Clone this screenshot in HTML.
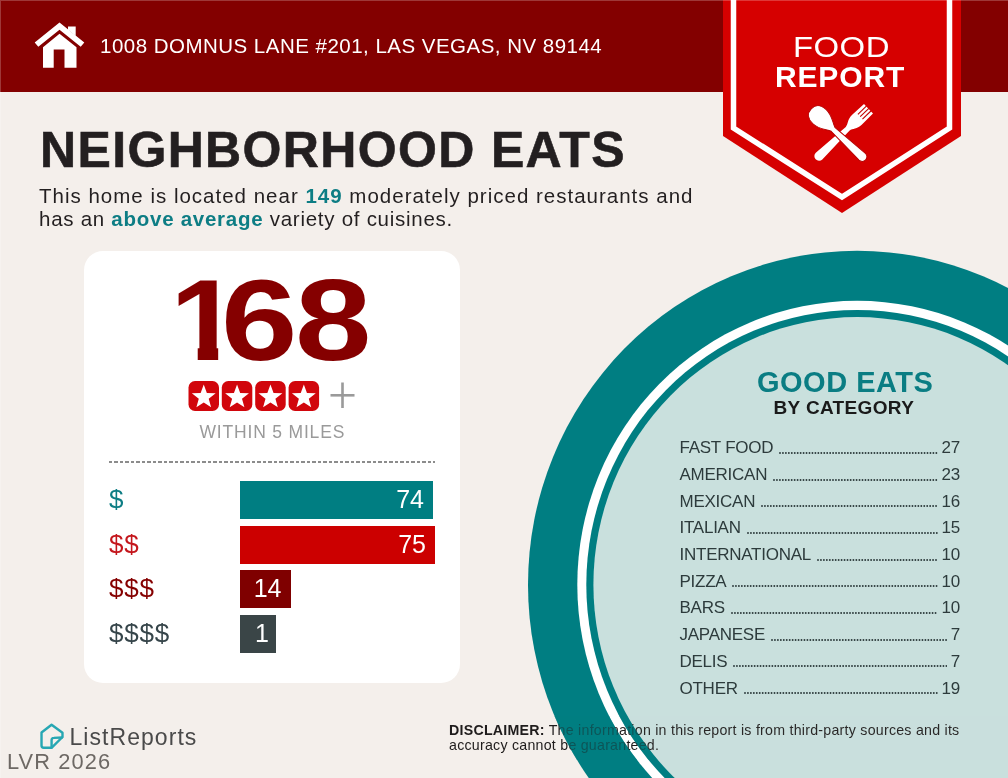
<!DOCTYPE html>
<html lang="en">
<head>
<meta charset="utf-8">
<title>Neighborhood Eats - Food Report</title>
<style>
  html, body { margin: 0; padding: 0; }
  body {
    width: 1008px; height: 778px; overflow: hidden; position: relative;
    background: #f4efeb;
    font-family: "Liberation Sans", sans-serif;
    color: #231f20;
  }
  .abs { position: absolute; white-space: nowrap; line-height: 1; }
  #header { position: absolute; left: 0; top: 0; width: 1008px; height: 91.500px; background: #830000; }
  #shapes { position: absolute; left: 0; top: 0; width: 1008px; height: 778px; }
  #address { left: 100px; top: 35.700px; font-size: 20.5px; letter-spacing: 0.48px; color: #fff; }
  #title { left: 40px; top: 125px; font-size: 50px; letter-spacing: 1.35px; -webkit-text-stroke: 0.6px #231f20; font-weight: bold; color: #231f20; }
  .para { left: 39px; font-size: 20.5px; color: #231f20; }
  .para b { color: #0d7d84; }
  #card { position: absolute; left: 84px; top: 250.700px; width: 376px; height: 432.800px; background: #fff; border-radius: 19px; }
  #big { left: 160px; top: 262.800px; width: 220px; height: 114.500px; font-size: 114.500px; font-weight: bold; color: #850000; }
  #big span { position: absolute; top: 0; display: block; line-height: 1; transform-origin: 0 0; }
  #big .b1 { left: 9.500px; transform: scaleX(1.1); clip-path: polygon(0 0, 100% 0, 100% 83.500px, 43.800px 83.500px, 43.800px 100%, 25.200px 100%, 25.200px 83.500px, 0 83.500px); }
  #big .b68 { left: 60.600px; transform: scaleX(1.2); letter-spacing: -2.1px; }
  #within { left: 199.500px; top: 424.200px; font-size: 17.500px; letter-spacing: 0.82px; color: #9a9a9a; }
  #dash { position: absolute; left: 109px; top: 461px; width: 326px; height: 2px; background: repeating-linear-gradient(90deg, #8c8c8c 0, #8c8c8c 3.500px, transparent 3.500px, transparent 5.500px); }
  .dol { left: 109px; font-size: 26px; letter-spacing: 0.8px; }
  .bar { position: absolute; left: 240px; height: 38px; }
  .bar span { position: absolute; right: 9px; top: 6px; font-size: 25px; color: #fff; line-height: 1; }
  #ge { letter-spacing: 0.5px; font-size: 29px; font-weight: bold; color: #0a7d83; left: 757px; top: 368px; }
  #bc { font-size: 19px; letter-spacing: 0.35px; font-weight: bold; color: #1a1a1a; left: 773.500px; top: 397.500px; }
  .row { position: absolute; left: 679.500px; width: 280.500px; height: 20px; font-size: 17px; letter-spacing: -0.25px; color: #2d3b3c; line-height: 20px; display: flex; align-items: baseline; white-space: nowrap; }
  .row i { flex: 1; margin: 0 3.500px 0 6px; height: 4px; position: relative; top: 1.700px; display: block; }
  .row i svg { display: block; width: 100%; height: 4px; overflow: hidden; }
  #disc { left: 449px; top: 723.200px; font-size: 14.200px; line-height: 15.300px; letter-spacing: 0.25px; color: #1f1c1c; white-space: nowrap; }
  #lr { left: 69.500px; top: 725.800px; font-size: 23px; letter-spacing: 1.05px; color: #4a4a4a; }
  #edge { position: absolute; left: 0; top: 0; width: 1007px; height: 777px; border-top: 1px solid rgba(255,255,255,0.22); border-left: 1px solid rgba(255,255,255,0.22); pointer-events: none; }
  #lvr { left: 7px; top: 751px; font-size: 21.800px; color: #6d6864; letter-spacing: 1.1px; }
</style>
</head>
<body>
<div id="header"></div>

<svg id="shapes" viewBox="0 0 1008 778">
  <!-- plate -->
  <ellipse cx="857.200" cy="584.700" rx="329.200" ry="333.900" fill="#007e82"/>
  <ellipse cx="857.200" cy="584.700" rx="279.900" ry="283.900" fill="#ffffff"/>
  <ellipse cx="857.200" cy="584.700" rx="270.900" ry="274.800" fill="#007e82"/>
  <ellipse cx="857.200" cy="584.700" rx="263.800" ry="267.600" fill="#c9e0dd"/>
  <!-- ribbon -->
  <polygon points="723,0 961,0 961,136 842,213 723,136" fill="#d60000"/>
  <polyline points="733.5,0 733.5,128 842,197 949.5,128 949.5,0" fill="none" stroke="#ffffff" stroke-width="5.5"/>
  <!-- house -->
  <g fill="#ffffff">
    <polygon points="59.500,22.500 84.300,42.600 80.700,46.800 59.500,29.700 38.300,46.800 34.700,42.600"/>
    <polygon points="68,26.500 75.700,26.500 75.700,36 68,29.800"/>
    <path d="M43,47.300 L59.500,33.800 L76.500,47.300 L76.500,67.700 L64.500,67.700 L64.500,49.500 L53.700,49.500 L53.700,67.700 L43,67.700 Z"/>
  </g>
  <!-- spoon & fork -->
  <g stroke="none">
    <g transform="translate(868.500,108.700) rotate(46.200)">
      <path fill="#ffffff" d="M-6.500,0 L6.500,0 L6.900,16 C6.900,23 3.200,24.500 2.600,29 L4.700,68.500 A4.700,4.700 0 0 1 -4.700,68.500 L-2.600,29 C-3.200,24.500 -6.900,23 -6.900,16 Z"/>
      <rect x="-3.850" y="-0.500" width="1.100" height="12" fill="#c20000"/>
      <rect x="-0.550" y="-0.500" width="1.100" height="12" fill="#c20000"/>
      <rect x="2.750" y="-0.500" width="1.100" height="12" fill="#c20000"/>
    </g>
    <g transform="translate(811.200,108.800) rotate(-46.800)">
      <path fill="#ffffff" stroke="#b80000" stroke-width="1" d="M0,0 C6.500,0 9.700,5 9.700,11.500 C9.700,20 4.500,25 2.700,30 L4.700,70 A4.700,4.700 0 0 1 -4.700,70 L-2.700,30 C-4.500,25 -9.700,20 -9.700,11.500 C-9.700,5 -6.500,0 0,0 Z"/>
    </g>
  </g>
</svg>

<div class="abs" id="address">1008 DOMNUS LANE #201, LAS VEGAS, NV 89144</div>
<div class="abs" id="food" style="left:792.500px;top:33px;font-size:29px;letter-spacing:0.4px;transform:scaleX(1.135);transform-origin:0 0;color:#fff;">FOOD</div>
<div class="abs" id="report" style="left:775px;top:62px;font-size:30px;letter-spacing:0.85px;color:#fff;font-weight:bold;">REPORT</div>

<div class="abs" id="title">NEIGHBORHOOD EATS</div>
<div class="abs para" id="p1" style="top:186.400px;letter-spacing:1.0px;">This home is located near <b>149</b> moderately priced restaurants and</div>
<div class="abs para" id="p2" style="top:209.200px;letter-spacing:0.73px;">has an <b>above average</b> variety of cuisines.</div>

<div id="card"></div>
<div class="abs" id="big"><span class="b1">1</span><span class="b68">68</span></div>
<svg class="abs" id="stars" style="left:187px;top:380px;" width="170" height="32" viewBox="0 0 170 32">
  <defs>
    <g id="st">
      <rect x="0" y="0" width="30.500" height="30" rx="6.500" fill="#d1060c"/>
      <polygon fill="#fff" transform="translate(15.250,15.300) scale(1.090) translate(-15.250,-15.300)" points="15.250,4.500 18.100,12.200 26.200,12.500 19.800,17.500 22,25.400 15.250,20.900 8.500,25.400 10.700,17.500 4.300,12.500 12.400,12.200"/>
    </g>
  </defs>
  <use href="#st" x="1.500" y="1"/>
  <use href="#st" x="34.800" y="1"/>
  <use href="#st" x="68.200" y="1"/>
  <use href="#st" x="101.600" y="1"/>
  <rect x="143.500" y="14" width="24" height="2.600" fill="#9a9a9a"/>
  <rect x="154.200" y="2.500" width="2.600" height="25.500" fill="#9a9a9a"/>
</svg>
<div class="abs" id="within">WITHIN 5 MILES</div>
<div id="dash"></div>

<div class="abs dol" style="top:486px;color:#0d7d84;">$</div>
<div class="abs dol" style="top:530.5px;color:#c4161c;">$$</div>
<div class="abs dol" style="top:575px;color:#850000;">$$$</div>
<div class="abs dol" style="top:619.5px;color:#36454a;">$$$$</div>
<div class="bar" style="top:481px;width:193px;background:#007e82;"><span>74</span></div>
<div class="bar" style="top:525.500px;width:195px;background:#cc0000;"><span>75</span></div>
<div class="bar" style="top:570px;width:50.500px;background:#7f0000;"><span>14</span></div>
<div class="bar" style="top:614.500px;width:36px;background:#3a4547;"><span style="right:7px;">1</span></div>

<div class="abs" id="ge">GOOD EATS</div>
<div class="abs" id="bc">BY CATEGORY</div>

<div class="row" style="top:438.2px;"><span>FAST FOOD</span><i><svg><line x1="1" y1="2" x2="100%" y2="2" stroke="#2d3b3c" stroke-width="1.900" stroke-dasharray="0.010 2.940" stroke-linecap="round"/></svg></i><span>27</span></div>
<div class="row" style="top:464.9px;"><span>AMERICAN</span><i><svg><line x1="1" y1="2" x2="100%" y2="2" stroke="#2d3b3c" stroke-width="1.900" stroke-dasharray="0.010 2.940" stroke-linecap="round"/></svg></i><span>23</span></div>
<div class="row" style="top:491.6px;"><span>MEXICAN</span><i><svg><line x1="1" y1="2" x2="100%" y2="2" stroke="#2d3b3c" stroke-width="1.900" stroke-dasharray="0.010 2.940" stroke-linecap="round"/></svg></i><span>16</span></div>
<div class="row" style="top:518.3px;"><span>ITALIAN</span><i><svg><line x1="1" y1="2" x2="100%" y2="2" stroke="#2d3b3c" stroke-width="1.900" stroke-dasharray="0.010 2.940" stroke-linecap="round"/></svg></i><span>15</span></div>
<div class="row" style="top:545.0px;"><span>INTERNATIONAL</span><i><svg><line x1="1" y1="2" x2="100%" y2="2" stroke="#2d3b3c" stroke-width="1.900" stroke-dasharray="0.010 2.940" stroke-linecap="round"/></svg></i><span>10</span></div>
<div class="row" style="top:571.7px;"><span>PIZZA</span><i><svg><line x1="1" y1="2" x2="100%" y2="2" stroke="#2d3b3c" stroke-width="1.900" stroke-dasharray="0.010 2.940" stroke-linecap="round"/></svg></i><span>10</span></div>
<div class="row" style="top:598.4px;"><span>BARS</span><i><svg><line x1="1" y1="2" x2="100%" y2="2" stroke="#2d3b3c" stroke-width="1.900" stroke-dasharray="0.010 2.940" stroke-linecap="round"/></svg></i><span>10</span></div>
<div class="row" style="top:625.1px;"><span>JAPANESE</span><i><svg><line x1="1" y1="2" x2="100%" y2="2" stroke="#2d3b3c" stroke-width="1.900" stroke-dasharray="0.010 2.940" stroke-linecap="round"/></svg></i><span>7</span></div>
<div class="row" style="top:651.8px;"><span>DELIS</span><i><svg><line x1="1" y1="2" x2="100%" y2="2" stroke="#2d3b3c" stroke-width="1.900" stroke-dasharray="0.010 2.940" stroke-linecap="round"/></svg></i><span>7</span></div>
<div class="row" style="top:678.5px;"><span>OTHER</span><i><svg><line x1="1" y1="2" x2="100%" y2="2" stroke="#2d3b3c" stroke-width="1.900" stroke-dasharray="0.010 2.940" stroke-linecap="round"/></svg></i><span>19</span></div>

<div class="abs" id="disc"><span id="d1"><b>DISCLAIMER:</b> The information in this report is from third-party sources and its</span><br><span id="d2">accuracy cannot be guaranteed.</span></div>

<svg class="abs" id="tint" style="left:440px;top:716px;" width="568" height="44" viewBox="440 716 568 44">
  <ellipse cx="857.200" cy="584.700" rx="304.550" ry="308.900" fill="none" stroke="#007e82" stroke-width="49.600" opacity="0.58"/>
  <ellipse cx="857.200" cy="584.700" rx="267.350" ry="271.200" fill="none" stroke="#007e82" stroke-width="7.100" opacity="0.58"/>
  <ellipse cx="857.200" cy="584.700" rx="263.800" ry="267.600" fill="#c9e0dd" opacity="0.06"/>
</svg>

<svg class="abs" id="lrlogo" style="left:38px;top:722px;" width="30" height="30" viewBox="0 0 30 30">
  <g transform="translate(13.900,14.200) scale(1.070) translate(-13.900,-14.050)" fill="none" stroke="#27a7b3" stroke-width="2.250" stroke-linejoin="round" stroke-linecap="round">
    <path d="M13.600,3.300 L23.800,10.900 L23.800,14.800 L13.800,24.800 L6.200,24.800 Q4.200,24.800 4.200,22.800 L4.200,10.600 Z"/>
    <path d="M13.600,24.600 L13.600,17.800 Q13.600,15.600 15.800,15.600 L23.400,15.200"/>
  </g>
</svg>
<div class="abs" id="lr">ListReports</div>
<div class="abs" id="lvr">LVR 2026</div>
<div id="edge"></div>
</body>
</html>
